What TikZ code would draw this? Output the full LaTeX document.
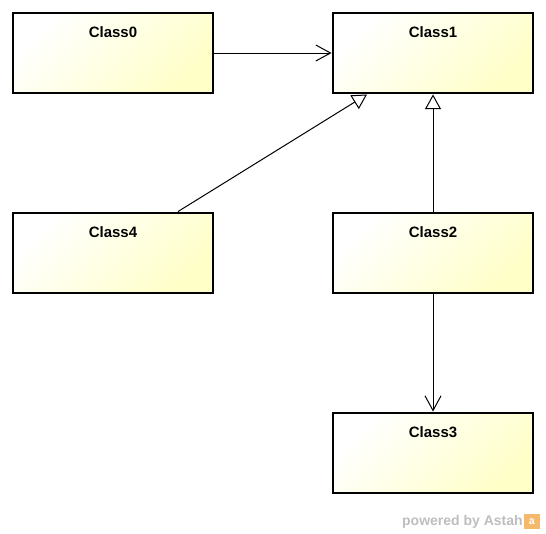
\documentclass[tikz,border=0pt]{standalone}
\usepackage{fontspec}
\setmainfont{Liberation Sans}
\usetikzlibrary{arrows.meta}
\usetikzlibrary{positioning}
\definecolor{boxyellow}{RGB}{255,255,200}
\definecolor{astahgray}{RGB}{190,190,190}
\definecolor{astahorange}{RGB}{245,185,110}

\begin{document}
\begin{tikzpicture}[
    x=0.75pt, y=-0.75pt,
    font=\bfseries\fontsize{11.25}{13}\selectfont
]
\tikzset{
    classbox/.style = {rectangle, draw=black, line width=2.2pt, top color=white,
        bottom color=boxyellow, shading angle=45, minimum width=150pt,
        inner sep=0pt, text height=18pt, text depth=42pt, align=center},
    edgea/.style = {-{Straight Barb[length=11pt,width=12pt]}, line width=0.75pt},
    edgeg/.style = {-{Triangle[open,length=11pt,width=12pt]}, line width=0.75pt}
}
\useasboundingbox (0,0) rectangle (546,533);
\node[classbox] at (113,53) (c0) {Class0};
\node[classbox] at (433,53) (c1) {Class1};
\node[classbox] at (433,253) (c2) {Class2};
\node[classbox] at (113,253) (c4) {Class4};
\node[classbox] at (433,453) (c3) {Class3};
\draw[edgea] (c0) edge (c1);
\draw[edgeg] ([xshift=48.75pt]c4.north) -- ([xshift=-49.5pt]c1.south);
\draw[edgeg] (c2) edge (c1);
\draw[edgea] (c2) edge (c3);
% watermark
\node[anchor=base east, inner sep=0pt, text=astahgray,
    font=\bfseries\fontsize{10.5}{12}\selectfont] at (523,525) (wm) {powered by Astah};
\node[fill=astahorange, text=white, minimum size=11.5pt, inner sep=0pt,
    font=\bfseries\fontsize{8}{8}\selectfont, right=0.75pt of wm.east] (logo) {a};
\end{tikzpicture}
\end{document}
